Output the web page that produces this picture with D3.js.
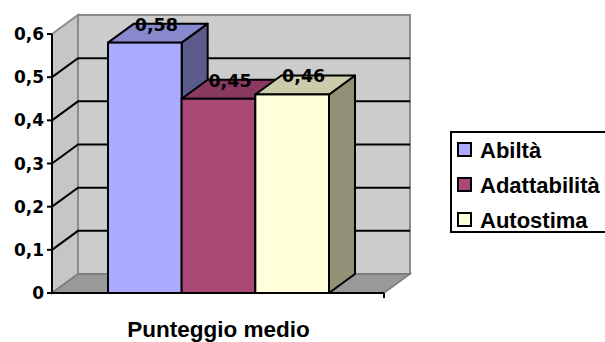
<!DOCTYPE html>
<html>
<head>
<meta charset="utf-8">
<script src="https://cdn.jsdelivr.net/npm/d3@7"></script>
<style>
  body { margin: 0; background: #fff; }
  svg { display: block; }
  .lab { font-family: "DejaVu Sans", sans-serif; font-weight: bold; }
  .arial { font-family: "Liberation Sans", Arial, sans-serif; font-weight: bold; }
</style>
</head>
<body>
<svg id="chart" width="605" height="342"></svg>
<script>
// data
var series = ["Abiltà", "Adattabilità", "Autostima"];
var values = [0.58, 0.45, 0.46];
var valueLabels = ["0,58", "0,45", "0,46"];
var yTicks = [0, 0.1, 0.2, 0.3, 0.4, 0.5, 0.6];
var category = "Punteggio medio";

// colours: front, top, side
var colors = [
  ["#aaaaff", "#8888cc", "#5c5c8c"],
  ["#aa4876", "#8a3a60", "#6e2e4c"],
  ["#ffffda", "#ccccaa", "#919177"]
];

var svg = d3.select("#chart");

// 3d depth offset
var dx = 26, dy = -19;
var x0 = 52, x1 = 384;

var y = d3.scaleLinear().domain([0, 0.6]).range([293, 34]);
var x = d3.scaleBand().domain(series).range([108, 329]).padding(0);

var yTop = y(0.6), yBot = y(0);

// back wall
svg.append("polygon")
  .attr("points", [[x0 + dx, yTop + dy], [x1 + dx, yTop + dy], [x1 + dx, yBot + dy], [x0 + dx, yBot + dy]].join(" "))
  .attr("fill", "#cccccc").attr("stroke", "#8a8a8a").attr("stroke-width", 2);
// left wall
svg.append("polygon")
  .attr("points", [[x0, yTop], [x0 + dx, yTop + dy], [x0 + dx, yBot + dy], [x0, yBot]].join(" "))
  .attr("fill", "#c6c6c6").attr("stroke", "#8a8a8a").attr("stroke-width", 2);
// floor
svg.append("polygon")
  .attr("points", [[x0, yBot], [x0 + dx, yBot + dy], [x1 + dx, yBot + dy], [x1, yBot]].join(" "))
  .attr("fill", "#999999").attr("stroke", "#7a7a7a").attr("stroke-width", 1.5);

// gridlines
yTicks.filter(function(t){ return t > 0 && t < 0.6; }).forEach(function(t){
  var yy = y(t);
  svg.append("polyline")
    .attr("points", [[x0, yy], [x0 + dx, yy + dy], [x1 + dx, yy + dy]].join(" "))
    .attr("fill", "none").attr("stroke", "#000").attr("stroke-width", 2);
});

// axis lines
svg.append("line").attr("x1", x0).attr("x2", x0).attr("y1", yTop).attr("y2", yBot)
  .attr("stroke", "#000").attr("stroke-width", 2);
svg.append("line").attr("x1", x0).attr("x2", x1).attr("y1", yBot).attr("y2", yBot)
  .attr("stroke", "#000").attr("stroke-width", 2);
svg.append("line").attr("x1", x1).attr("x2", x1).attr("y1", yBot).attr("y2", yBot + 5)
  .attr("stroke", "#000").attr("stroke-width", 2);

// y ticks + labels
yTicks.forEach(function(t){
  svg.append("line").attr("x1", x0 - 5).attr("x2", x0).attr("y1", y(t)).attr("y2", y(t))
    .attr("stroke", "#000").attr("stroke-width", 2);
  svg.append("text").attr("class", "lab")
    .attr("x", x0 - 8).attr("y", y(t) + 6)
    .attr("text-anchor", "end")
    .attr("font-size", "17px")
    .text(String(t).replace(".", ","));
});

// bars, left to right so later ones cover the side faces
var bars = series.map(function(s, i){ return {name: s, value: values[i], label: valueLabels[i], c: colors[i]}; });

bars.forEach(function(d){
  var L = x(d.name), R = L + x.bandwidth(), T = y(d.value), B = yBot;
  var g = svg.append("g");
  g.append("polygon")
    .attr("points", [[R, T], [R + dx, T + dy], [R + dx, B + dy], [R, B]].join(" "))
    .attr("fill", d.c[2]).attr("stroke", "#000").attr("stroke-width", 2).attr("stroke-linejoin", "round");
  g.append("polygon")
    .attr("points", [[L, T], [L + dx, T + dy], [R + dx, T + dy], [R, T]].join(" "))
    .attr("fill", d.c[1]).attr("stroke", "#000").attr("stroke-width", 2).attr("stroke-linejoin", "round");
  g.append("rect")
    .attr("x", L).attr("y", T).attr("width", R - L).attr("height", B - T)
    .attr("fill", d.c[0]).attr("stroke", "#000").attr("stroke-width", 2);
});

// value labels
bars.forEach(function(d){
  svg.append("text").attr("class", "lab")
    .attr("x", x(d.name) + x.bandwidth() / 2 + 11.5)
    .attr("y", y(d.value) - 12)
    .attr("text-anchor", "middle")
    .attr("font-size", "17.5px")
    .text(d.label);
});

// category label
svg.append("text").attr("class", "arial")
  .attr("x", 218.5).attr("y", 337)
  .attr("text-anchor", "middle")
  .attr("font-size", "22.5px")
  .text(category);

// legend
var lg = svg.append("g");
lg.append("rect").attr("x", 451).attr("y", 132).attr("width", 170).attr("height", 100)
  .attr("fill", "#fff").attr("stroke", "#000").attr("stroke-width", 2);
bars.forEach(function(d, i){
  var base = 158 + i * 35;
  lg.append("rect").attr("x", 458).attr("y", base - 15).attr("width", 13).attr("height", 13)
    .attr("fill", d.c[0]).attr("stroke", "#000").attr("stroke-width", 2);
  lg.append("text").attr("class", "arial").attr("x", 480).attr("y", base)
    .attr("font-size", "22px")
    .text(d.name);
});
</script>
</body>
</html>
